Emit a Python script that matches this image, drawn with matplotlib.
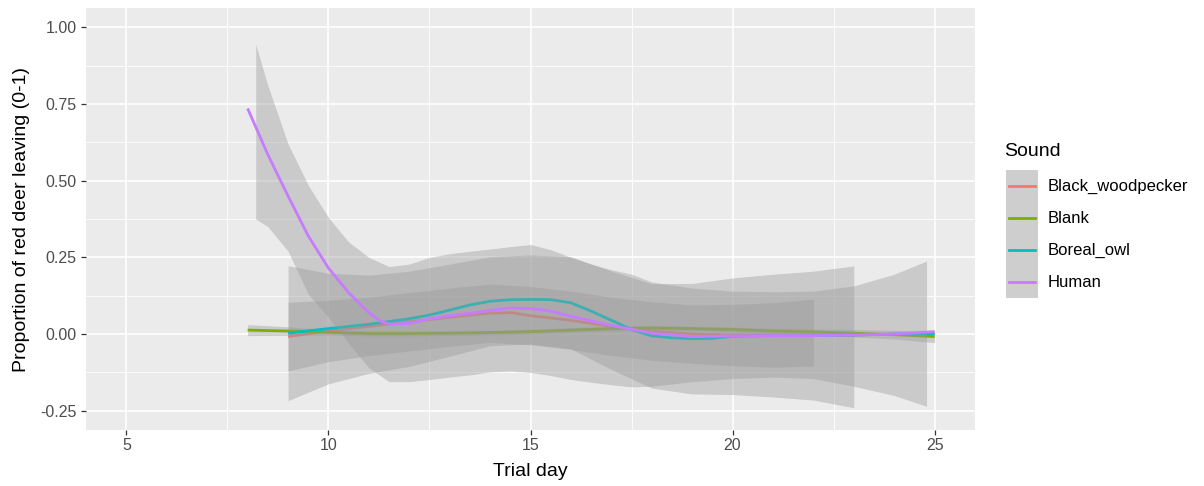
import matplotlib
matplotlib.use("Agg")
import matplotlib.pyplot as plt
from matplotlib.patches import Rectangle
from matplotlib.lines import Line2D
import numpy as np

plt.rcParams['font.family'] = ['Liberation Sans', 'DejaVu Sans']

# ---------------- data ----------------
sounds = ["Black_woodpecker", "Blank", "Boreal_owl", "Human"]
colors = ["#F8766D", "#7CAE00", "#00BFC4", "#C77CFF"]

# Black_woodpecker
bw_x = [9, 10, 11, 12, 13, 14, 14.5, 15, 16, 17, 18, 19, 20, 21, 22, 23, 24, 25]
bw_fit = [-0.008, 0.01, 0.025, 0.04, 0.055, 0.068, 0.07, 0.06, 0.045, 0.025, 0.01, 0.0,
          -0.003, -0.003, -0.003, -0.003, 0.0, 0.0]
bw_band_x = [9, 10, 11, 12, 13, 14, 15, 16, 17, 18, 19, 20, 21, 22]
bw_lo = [-0.12, -0.09, -0.07, -0.055, -0.04, -0.027, -0.035, -0.05, -0.07, -0.085, -0.095,
         -0.103, -0.108, -0.104]
bw_hi = [0.104, 0.11, 0.12, 0.135, 0.15, 0.163, 0.155, 0.14, 0.12, 0.105, 0.095, 0.097,
         0.102, 0.114]

# Blank
bl_x = [8, 9, 10, 11, 12, 13, 14, 15, 16, 17, 18, 19, 20, 21, 22, 23, 24, 25]
bl_fit = [0.013, 0.01, 0.006, 0.002, 0.002, 0.003, 0.005, 0.008, 0.013, 0.018, 0.02, 0.018,
          0.015, 0.01, 0.007, 0.003, -0.002, -0.008]
bl_lo = [-0.005, -0.004, -0.003, -0.006, -0.006, -0.005, -0.003, 0.0, 0.005, 0.01, 0.012,
         0.01, 0.007, 0.001, -0.003, -0.009, -0.016, -0.028]
bl_hi = [0.031, 0.024, 0.015, 0.01, 0.01, 0.011, 0.013, 0.016, 0.021, 0.026, 0.028, 0.026,
         0.023, 0.019, 0.017, 0.015, 0.012, 0.012]

# Boreal_owl
bo_x = [9, 10, 11, 12, 12.5, 13, 13.5, 14, 14.5, 15, 15.5, 16, 16.5, 17, 17.5, 18, 18.5, 19,
        19.5, 20, 21, 22, 23, 24, 25]
bo_fit = [0.003, 0.018, 0.032, 0.05, 0.062, 0.078, 0.095, 0.107, 0.112, 0.113, 0.112, 0.102,
          0.075, 0.045, 0.015, -0.006, -0.012, -0.015, -0.014, -0.007, -0.005, -0.005, -0.003,
          0.0, 0.002]
bo_band_x = [9, 10, 11, 12, 13, 14, 15, 16, 17, 18, 19, 20, 21, 22, 23]
bo_lo = [-0.217, -0.162, -0.128, -0.105, -0.072, -0.038, -0.032, -0.048, -0.115, -0.176,
         -0.195, -0.197, -0.205, -0.215, -0.24]
bo_hi = [0.223, 0.198, 0.192, 0.205, 0.228, 0.252, 0.258, 0.252, 0.205, 0.164, 0.165, 0.183,
         0.195, 0.205, 0.222]

# Human
hu_x = [8, 8.5, 9, 9.5, 10, 10.5, 11, 11.25, 11.5, 12, 12.5, 13, 13.5, 14, 14.5, 15, 15.5,
        16, 16.5, 17, 17.5, 18, 19, 20, 21, 22, 23, 24, 25]
hu_fit = [0.735, 0.585, 0.45, 0.32, 0.215, 0.135, 0.07, 0.045, 0.032, 0.035, 0.05, 0.06,
          0.068, 0.077, 0.085, 0.083, 0.075, 0.058, 0.043, 0.028, 0.016, 0.003, -0.008,
          -0.006, -0.005, -0.005, -0.003, 0.0, 0.008]
hu_band_x = [8.2, 8.5, 9, 9.5, 10, 10.5, 11, 11.5, 12, 12.5, 13, 13.5, 14, 14.5, 15, 15.5,
             16, 16.5, 17, 17.5, 18, 19, 20, 21, 22, 23, 24, 24.8]
hu_lo = [0.375, 0.35, 0.27, 0.13, 0.055, -0.03, -0.11, -0.155, -0.155, -0.148, -0.14, -0.133,
         -0.123, -0.12, -0.125, -0.135, -0.148, -0.157, -0.165, -0.172, -0.17, -0.155, -0.145,
         -0.14, -0.145, -0.17, -0.2, -0.235]
hu_hi = [0.945, 0.81, 0.62, 0.485, 0.38, 0.30, 0.25, 0.22, 0.228, 0.25, 0.262, 0.27, 0.277,
         0.285, 0.292, 0.275, 0.25, 0.228, 0.21, 0.195, 0.17, 0.15, 0.14, 0.138, 0.14, 0.157,
         0.195, 0.238]

x_ticks = [5, 10, 15, 20, 25]
y_ticks = [-0.25, 0.0, 0.25, 0.5, 0.75, 1.0]
y_tick_labels = ["-0.25", "0.00", "0.25", "0.50", "0.75", "1.00"]

series = [
    (bw_x, bw_fit, bw_band_x, bw_lo, bw_hi),
    (bl_x, bl_fit, bl_x, bl_lo, bl_hi),
    (bo_x, bo_fit, bo_band_x, bo_lo, bo_hi),
    (hu_x, hu_fit, hu_band_x, hu_lo, hu_hi),
]

# ---------------- figure ----------------
W, H = 1204, 486
fig = plt.figure(figsize=(W / 100, H / 100), dpi=100)
pl, pr, pt, pb = 86, 975, 8, 430
ax = fig.add_axes([pl / W, 1 - pb / H, (pr - pl) / W, (pb - pt) / H])
ax.set_facecolor("#EBEBEB")
for s in ax.spines.values():
    s.set_visible(False)

ax.set_xlim(4, 26)
ax.set_ylim(-0.3125, 1.0625)
ax.set_xticks(x_ticks)
ax.set_yticks(y_ticks)
ax.set_yticklabels(y_tick_labels)
ax.set_xticks([7.5, 12.5, 17.5, 22.5], minor=True)
ax.set_yticks([-0.125, 0.125, 0.375, 0.625, 0.875], minor=True)
ax.grid(which="major", color="white", linewidth=1.2)
ax.grid(which="minor", color="white", linewidth=0.6)
ax.set_axisbelow(True)
ax.tick_params(which="major", length=3.6, width=0.9, color="#333333",
               labelcolor="#4D4D4D", labelsize=11.5)
ax.tick_params(axis="y", which="major", pad=3.0)
ax.tick_params(axis="x", which="major", pad=2.5)
ax.tick_params(which="minor", length=0)

z = 2
for (x, fit, bx, lo, hi), c in zip(series, colors):
    ax.fill_between(bx, lo, hi, color="#999999", alpha=0.4, linewidth=0, zorder=z)
    ax.plot(x, fit, color=c, linewidth=2.0, zorder=z + 1, solid_capstyle="butt")
    z += 2

ax.set_xlabel("Trial day", fontsize=14, color="black", va="center")
ax.xaxis.set_label_coords(0.5, (pb - 471) / (pb - pt))
ax.set_ylabel("Proportion of red deer leaving (0-1)", fontsize=14, color="black", va="center")
ax.yaxis.set_label_coords((22 - pl) / (pr - pl), 0.5)

# ---------------- legend ----------------
def fx(px):
    return px / W

def fy(py):
    return 1 - py / H

fig.text(fx(1004), fy(152), "Sound", fontsize=14, va="center", ha="left")
key_top = 170
key_h = 32
for i, (name, c) in enumerate(zip(sounds, colors)):
    y0 = key_top + i * key_h
    fig.add_artist(Rectangle((fx(1006), fy(y0 + key_h)), 32 / W, key_h / H,
                             transform=fig.transFigure, facecolor="#CECECE",
                             edgecolor="none"))
    yc = y0 + key_h / 2
    fig.add_artist(Line2D([fx(1009), fx(1035)], [fy(yc), fy(yc)], transform=fig.transFigure,
                          color=c, linewidth=2.0))
    fig.text(fx(1048), fy(yc), name, fontsize=12, va="center", ha="left", color="black")

fig.savefig("out.png", dpi=100)
